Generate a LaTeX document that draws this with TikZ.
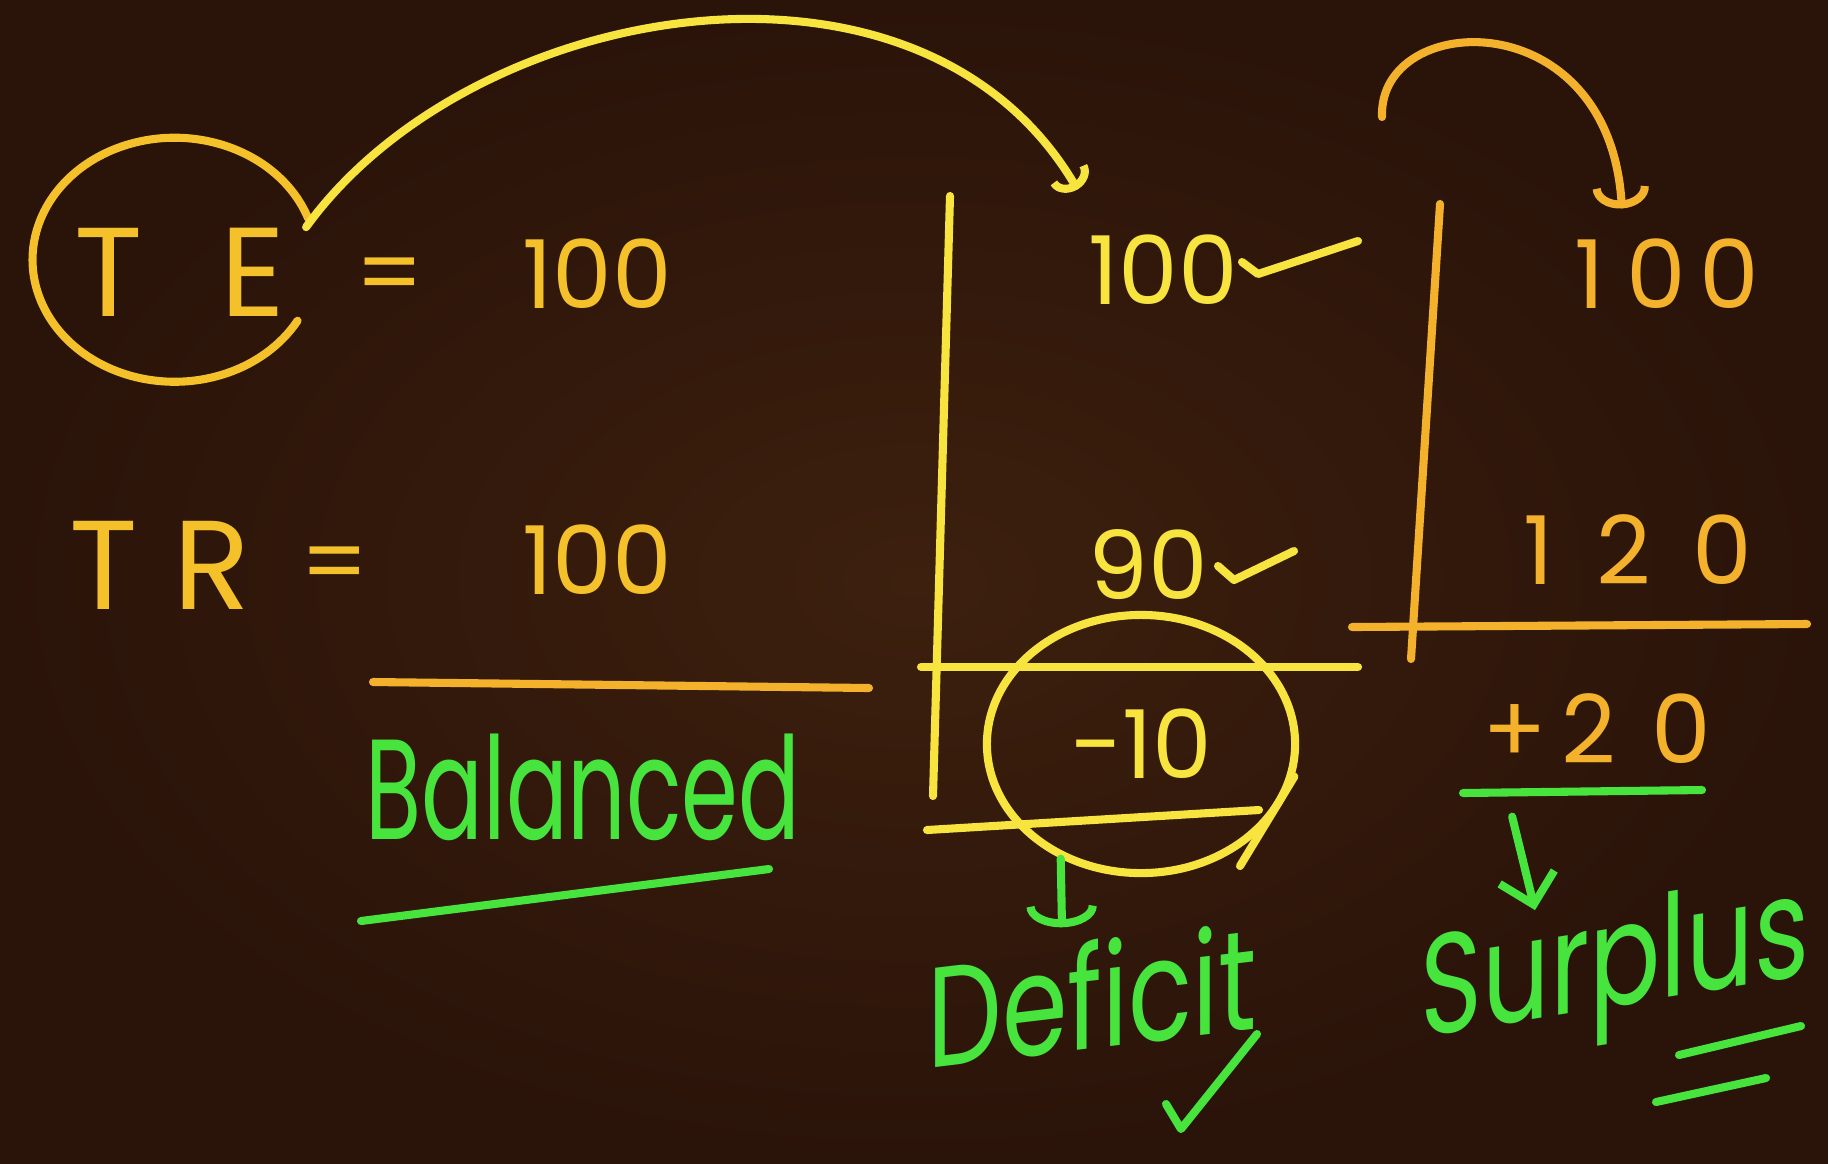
\documentclass[tikz,border=0pt]{standalone}
\usepackage{fontspec}
\setmainfont{Poppins}
\usepackage{graphicx}
\usetikzlibrary{arrows.meta, positioning, calc, shapes.geometric}
\definecolor{boardbrown}{HTML}{3D200E}
\definecolor{boarddark}{HTML}{2A1309}
\definecolor{chalkgold}{HTML}{F5C12B}
\definecolor{chalkyellow}{HTML}{F7E43E}
\definecolor{chalkorange}{HTML}{F4B22C}
\definecolor{chalkgreen}{HTML}{46E43C}
\newcommand{\chalkword}[2][1.35]{\scalebox{1}[#1]{#2}}

\begin{document}
\begin{tikzpicture}[x=0.01cm, y=-0.01cm, line cap=round, line join=round,
    chalk/.style={line width=2.3pt},
    numtext/.style={inner sep=0pt, font=\fontsize{27}{30}\selectfont},
    bigtext/.style={inner sep=0pt, font=\fontsize{36}{40}\selectfont},
    wordtext/.style={inner sep=0pt, text=chalkgreen, font=\fontsize{30}{34}\selectfont}]
    % Board
    \useasboundingbox (0,0) rectangle (1828,1163);
    \shade[inner color=boardbrown, outer color=boarddark] (0,0) rectangle (1828,1163);

    % Left: TE and TR
    \node[bigtext, text=chalkgold] (te) at (180,272) {T\kern22pt E};
    \draw[chalk, chalkgold] (308,218) arc[start angle=-20, end angle=-330, x radius=142, y radius=122];
    \node[numtext, text=chalkgold] (teeq) at (390,282) {=};
    \node[numtext, text=chalkgold] (teval) at (597,274) {100};
    \node[bigtext, text=chalkgold] (tr) at (160,565) {T\kern10pt R};
    \node[numtext, text=chalkgold] (treq) at (335,571) {=};
    \node[numtext, text=chalkgold] (trval) at (597,560) {100};
    \draw[chalk, chalkorange] (373,682) -- (869,688);
    \node[wordtext, font=\fontsize{26}{30}\selectfont] (balanced) at (583,787) {\chalkword[1.56]{Balanced}};
    \draw[chalk, chalkgreen] (361,921) -- (769,869);

    % Middle column: deficit
    \draw[chalk, chalkyellow] (950,196) -- (933,796);
    \node[numtext, text=chalkyellow] (defexp) at (1163,270) {100};
    \node[numtext, text=chalkyellow] (defrev) at (1148,565) {90};
    \draw[chalk, chalkyellow] (1242,262) -- (1258,274) -- (1358,241);
    \draw[chalk, chalkyellow] (1218,566) -- (1234,580) -- (1294,551);
    \draw[chalk, chalkyellow] (921,667) -- (1358,667);
    \node[numtext, text=chalkyellow, draw=chalkyellow, chalk, ellipse, minimum width=3.08cm, minimum height=2.58cm] (defbal) at (1141,744) {−10};
    \draw[chalk, chalkyellow] (defbal.-12) -- (1240,866);
    \draw[chalk, chalkyellow] (927,830) -- (1259,810);
    \node[wordtext, yslant=0.12, transform shape] (deficit) at (1092,995) {\chalkword{Deficit}};
    \draw[chalk, chalkgreen, -{Arc Barb[width=20pt, length=6pt]}] (defbal.235) -- ($(deficit.north)+(-30,-12)$);
    \draw[chalk, chalkgreen] (1166,1104) -- (1181,1129) -- (1257,1034);

    % Right column: surplus
    \draw[chalk, chalkorange] (1440,204) -- (1411,659);
    \node[numtext, text=chalkorange] (surexp) at (1667,274) {1\kern6pt0\kern4pt0};
    \node[numtext, text=chalkorange] (surrev) at (1638,550) {1\kern12pt2\kern12pt0};
    \draw[chalk, chalkorange] (1352,627) -- (1807,624);
    \node[numtext, text=chalkorange] (surbal) at (1597,729) {+\kern4pt2\kern10pt0};
    \draw[chalk, chalkgreen] (1463,793) -- (1702,790);
    \node[wordtext, yslant=0.16, transform shape] (surplus) at (1615,972) {\chalkword{Surplus}};
    \draw[chalk, chalkgreen, -{Straight Barb[width=16pt, length=8pt]}] ($(surbal.south west)+(30,52)$) -- ($(surplus.north)+(-80,10)$);
    \draw[chalk, chalkgreen] (1679,1055) -- (1801,1026);
    \draw[chalk, chalkgreen] (1656,1102) -- (1766,1078);

    % Carry-over arrows
    \draw[chalk, chalkyellow, -{Arc Barb[width=12pt, length=5pt]}] ($(te.north east)+(20,0)$) .. controls (470,0) and (920,-80) .. ($(defexp.north west)+(-10,-45)$);
    \coordinate (loopstart) at (1382,117);
    \draw[chalk, chalkorange, -{Arc Barb[width=16pt, length=6pt]}] (loopstart) .. controls (1378,10) and (1610,0) .. ($(surexp.north west)+(48,-30)$);
\end{tikzpicture}
\end{document}
